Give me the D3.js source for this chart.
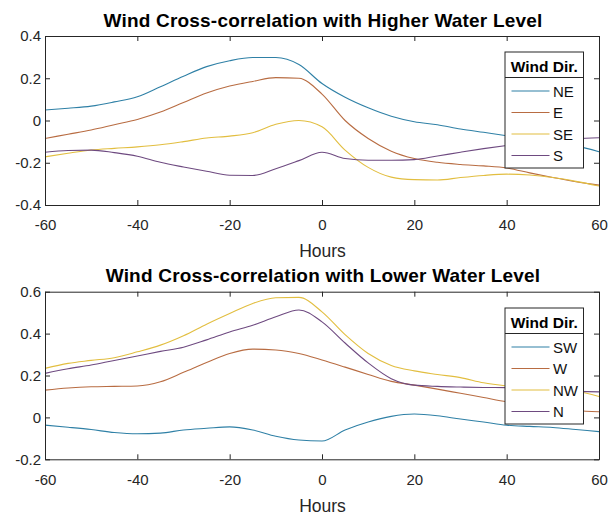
<!DOCTYPE html>
<html><head><meta charset="utf-8">
<script src="https://cdn.jsdelivr.net/npm/d3@7"></script>
<style>html,body{margin:0;padding:0;background:#fff;}svg{display:block;font-family:"Liberation Sans",Arial,sans-serif;}</style>
</head><body>
<script>
// ---- Data ----
const hours = [-60,-55,-50,-45,-40,-35,-30,-25,-20,-15,-10,-5,0,5,10,15,20,25,30,35,40,45,50,55,60];
const xTicks = [-60,-40,-20,0,20,40,60];
const xTickLabels = ["-60","-40","-20","0","20","40","60"];

const highTitle = "Wind Cross-correlation with Higher Water Level";
const highNames = ["NE","E","SE","S"];
const highNE = [0.05,0.058,0.068,0.088,0.112,0.16,0.21,0.255,0.283,0.298,0.298,0.265,0.175,0.11,0.06,0.02,-0.006,-0.02,-0.04,-0.056,-0.072,-0.09,-0.108,-0.12,-0.148];
const highE  = [-0.085,-0.065,-0.045,-0.02,0.005,0.04,0.085,0.13,0.163,0.185,0.203,0.2,0.125,0.0,-0.085,-0.145,-0.18,-0.198,-0.208,-0.215,-0.225,-0.248,-0.27,-0.29,-0.306];
const highSE = [-0.172,-0.155,-0.14,-0.132,-0.125,-0.115,-0.1,-0.083,-0.074,-0.058,-0.018,0.0,-0.03,-0.14,-0.222,-0.268,-0.28,-0.282,-0.27,-0.26,-0.254,-0.258,-0.27,-0.288,-0.31];
const highS  = [-0.15,-0.142,-0.14,-0.152,-0.169,-0.198,-0.22,-0.24,-0.259,-0.26,-0.228,-0.19,-0.15,-0.18,-0.188,-0.188,-0.185,-0.168,-0.15,-0.133,-0.118,-0.105,-0.095,-0.087,-0.082];
const highYTicks = [-0.4,-0.2,0,0.2,0.4];
const highYLabels = ["-0.4","-0.2","0","0.2","0.4"];

const lowTitle = "Wind Cross-correlation with Lower Water Level";
const lowNames = ["SW","W","NW","N"];
const lowSW = [-0.037,-0.047,-0.058,-0.072,-0.078,-0.075,-0.06,-0.052,-0.045,-0.06,-0.09,-0.108,-0.113,-0.06,-0.022,0.005,0.016,0.008,-0.008,-0.022,-0.037,-0.043,-0.048,-0.058,-0.068];
const lowW  = [0.13,0.14,0.146,0.148,0.15,0.17,0.215,0.262,0.305,0.326,0.322,0.305,0.274,0.24,0.205,0.172,0.154,0.135,0.115,0.095,0.075,0.06,0.045,0.033,0.027];
const lowNW = [0.234,0.258,0.272,0.285,0.313,0.345,0.39,0.445,0.496,0.544,0.571,0.573,0.504,0.395,0.305,0.248,0.222,0.205,0.19,0.165,0.15,0.14,0.13,0.125,0.1];
const lowN  = [0.21,0.232,0.25,0.272,0.293,0.315,0.335,0.37,0.408,0.44,0.48,0.513,0.456,0.355,0.26,0.185,0.154,0.148,0.145,0.143,0.142,0.135,0.128,0.124,0.122];
const lowYTicks = [-0.2,0,0.2,0.4,0.6];
const lowYLabels = ["-0.2","0","0.2","0.4","0.6"];

const colors = ["#2f80a6","#b86c42","#e2be40","#6e4a80"];
const xLabel = "Hours";
const legendTitle = "Wind Dir.";

// ---- Drawing ----
const W = 611, H = 516;
const svg = d3.select("body").append("svg").attr("width", W).attr("height", H);
const axisColor = "#262626";

function panel(cfg) {
  const x = d3.scaleLinear().domain([-60, 60]).range([45, 599]);
  const y = d3.scaleLinear().domain(cfg.yDomain).range([cfg.bottom, cfg.top]);
  const g = svg.append("g");

  const line = d3.line().x((d,i) => x(hours[i])).y(d => y(d)).curve(d3.curveMonotoneX);
  cfg.series.forEach((s, k) => {
    g.append("path").attr("d", line(s)).attr("fill", "none")
      .attr("stroke", colors[k]).attr("stroke-width", 1.1);
  });

  const styleAxis = sel => {
    sel.selectAll("path.domain").attr("stroke", axisColor).attr("stroke-width", 1);
    sel.selectAll(".tick line").attr("stroke", axisColor);
    sel.selectAll("text").attr("fill", axisColor).style("font-size", "15px").style("font-family", '"Liberation Sans",Arial,sans-serif');
  };
  const xb = g.append("g").attr("transform", `translate(0,${cfg.bottom})`)
    .call(d3.axisBottom(x).tickValues(xTicks).tickSizeInner(-5).tickSizeOuter(0).tickPadding(0)
      .tickFormat((d,i) => xTickLabels[i]));
  styleAxis(xb);
  xb.selectAll("text").attr("dy", null).attr("y", cfg.xLabelOffset);
  const xt = g.append("g").attr("transform", `translate(0,${cfg.top})`)
    .call(d3.axisTop(x).tickValues(xTicks).tickSizeInner(-5).tickSizeOuter(0).tickFormat(""));
  styleAxis(xt);
  const yl = g.append("g").attr("transform", `translate(45,0)`)
    .call(d3.axisLeft(y).tickValues(cfg.yTicks).tickSizeInner(-5).tickSizeOuter(0).tickPadding(4)
      .tickFormat((d,i) => cfg.yLabels[i]));
  styleAxis(yl);
  const yr = g.append("g").attr("transform", `translate(599,0)`)
    .call(d3.axisRight(y).tickValues(cfg.yTicks).tickSizeInner(-5).tickSizeOuter(0).tickFormat(""));
  styleAxis(yr);

  g.append("text").attr("x", 323).attr("y", cfg.titleY).attr("text-anchor", "middle")
    .style("font-size", "19px").style("letter-spacing", "0.2px").style("font-weight", "bold")
    .attr("fill", "#000").text(cfg.title);
  g.append("text").attr("x", 322.5).attr("y", cfg.xLabelY).attr("text-anchor", "middle")
    .style("font-size", "17.5px").attr("fill", axisColor).text(xLabel);

  // legend
  const lx = 505, lw = 78.5, lt = cfg.legendTop;
  const lg = g.append("g");
  lg.append("rect").attr("x", lx).attr("y", lt).attr("width", lw).attr("height", 116)
    .attr("fill", "#fff").attr("stroke", axisColor).attr("stroke-width", 1);
  lg.append("line").attr("x1", lx).attr("x2", lx + lw).attr("y1", lt + 25.5).attr("y2", lt + 25.5)
    .attr("stroke", axisColor);
  lg.append("text").attr("x", lx + lw / 2).attr("y", lt + 20).attr("text-anchor", "middle")
    .style("font-size", "15.5px").style("font-weight", "bold").attr("fill", "#000").text(legendTitle);
  cfg.names.forEach((n, k) => {
    const ey = lt + 39 + k * 21.5;
    lg.append("line").attr("x1", 511.5).attr("x2", 549.5).attr("y1", ey).attr("y2", ey)
      .attr("stroke", colors[k]).attr("stroke-width", 1.1);
    lg.append("text").attr("x", 553).attr("y", ey + 5.5).style("font-size", "15px")
      .attr("fill", "#111").text(n);
  });
}

panel({top: 36, bottom: 205, yDomain: [-0.4, 0.4], yTicks: highYTicks, yLabels: highYLabels,
  series: [highNE, highE, highSE, highS], names: highNames, title: highTitle,
  titleY: 26.5, xLabelY: 256.5, xLabelOffset: 24.5, legendTop: 52});
panel({top: 291.7, bottom: 459.3, yDomain: [-0.2, 0.6], yTicks: lowYTicks, yLabels: lowYLabels,
  series: [lowSW, lowW, lowNW, lowN], names: lowNames, title: lowTitle,
  titleY: 281.5, xLabelY: 511.5, xLabelOffset: 25.5, legendTop: 308});
</script>
</body></html>
